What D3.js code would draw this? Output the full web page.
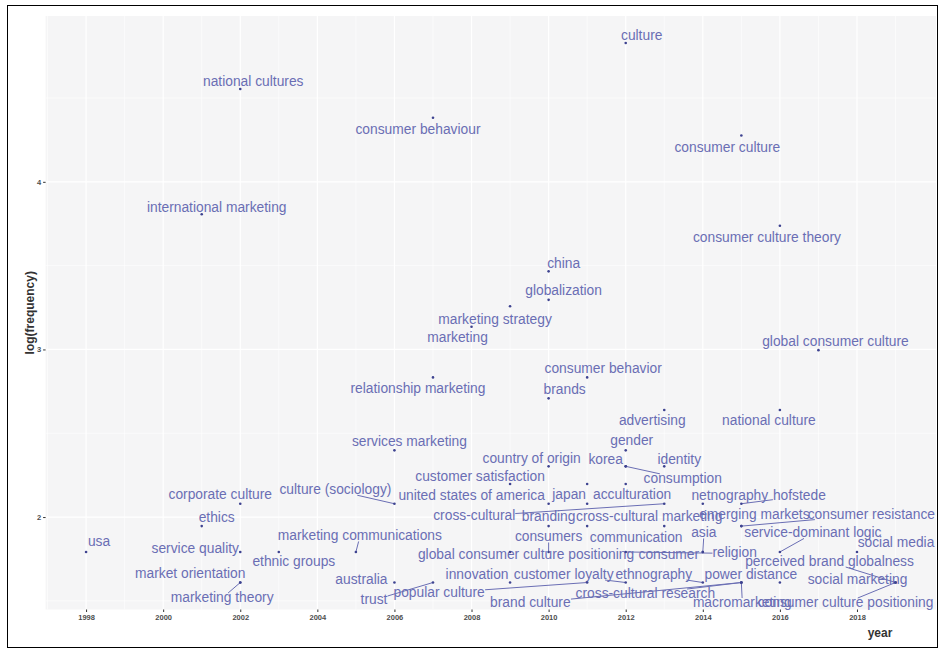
<!DOCTYPE html>
<html>
<head>
<meta charset="utf-8">
<script src="https://cdn.jsdelivr.net/npm/d3@7"></script>
<style>
  html, body { margin: 0; padding: 0; background: #ffffff; }
  svg { display: block; }
</style>
</head>
<body>
<svg id="chart" width="939" height="650"></svg>
<script>
// Author keywords: year of first appearance and number of occurrences.
// An empty term is a point whose label could not be placed.
const keywords = [
  "culture", "national cultures", "consumer behaviour", "consumer culture",
  "international marketing", "consumer culture theory", "china", "globalization",
  "marketing strategy", "marketing", "global consumer culture", "consumer behavior",
  "relationship marketing", "brands", "advertising", "national culture",
  "services marketing", "gender", "country of origin", "korea", "identity",
  "consumption", "customer satisfaction", "acculturation", "united states of america",
  "culture (sociology)", "corporate culture", "japan", "netnography", "hofstede",
  "cross-cultural", "branding", "cross-cultural marketing", "emerging markets",
  "consumer resistance", "ethics", "consumers", "communication", "asia",
  "service-dominant logic", "social media", "usa", "marketing communications",
  "service quality", "ethnic groups", "global consumer culture positioning",
  "consumer", "religion", "perceived brand globalness", "market orientation",
  "marketing theory", "australia", "trust", "popular culture", "innovation",
  "customer loyalty", "ethnography", "power distance", "social marketing",
  "brand culture", "cross-cultural research", "macromarketing",
  "consumer culture positioning", ""
];
const years = [
  2012, 2002, 2007, 2015, 2001, 2016, 2010, 2010, 2009, 2008, 2017, 2011,
  2007, 2010, 2013, 2016, 2006, 2012, 2010, 2012, 2013, 2012, 2009, 2011,
  2010, 2006, 2002, 2011, 2014, 2015, 2013, 2010, 2013, 2015, 2015, 2001,
  2010, 2011, 2014, 2016, 2018, 1998, 2005, 2002, 2003, 2009, 2014, 2012,
  2019, 2002, 2002, 2006, 2007, 2011, 2009, 2012, 2014, 2016, 2019, 2015,
  2015, 2015, 2019, 2012
];
const frequencies = [
  125, 95, 80, 72, 45, 42, 32, 27, 26, 23, 20, 17,
  17, 15, 14, 14, 11, 11, 10, 10, 10, 10, 9, 9,
  8, 8, 8, 8, 8, 8, 8, 7, 7, 7, 7, 7,
  6, 7, 6, 6, 6, 6, 6, 6, 6, 6, 6, 6,
  5, 5, 5, 5, 5, 5, 5, 5, 5, 5, 5, 5,
  5, 5, 5, 9
];
// Axis ticks
const yearTicks = [1998, 2000, 2002, 2004, 2006, 2008, 2010, 2012, 2014, 2016, 2018];
const logTicks = [2, 3, 4];

// Repelled label placement: offset of each label centre from its point, in px
const labelOffsets = [
  [16, -7], [13, -7], [-15, 12], [-14, 12], [15, -7], [-13, 12], [15, -8], [15, -9],
  [-15, 13], [-14, 11], [17, -9], [16, -9], [-15, 11], [16, -9], [-12, 11], [-11, 11],
  [15, -9], [6, -10], [-17, -8], [-20, -7], [15, -7], [57, 12], [-30, -7], [45, 11],
  [-77, -8], [-59, -14], [-20, -9], [-18, -9], [27, -8], [58, -8], [-190, 12], [0, -10],
  [-15, -10], [13, -12], [130, -12], [15, -9], [0, -15], [49, 11], [1, -19], [33, -19],
  [39, -9], [13, -10], [4, -16], [-45, -3], [15, 10], [16, 3], [-34, 3], [109, 1],
  [-66, -21], [-50, -9], [-18, 15], [-33, -3], [-59, 17], [-148, 10], [-33, -8], [-62, -8],
  [-49, -8], [-29, -8], [-38, -3], [-211, 20], [-96, 11], [1, 20], [-50, 20], [0, 0]
];

const rows = keywords.map((k, i) => ({
  term: k,
  year: years[i],
  logFreq: Math.log(frequencies[i]),
  off: labelOffsets[i]
}));

const svg = d3.select("#chart");
const panel = { left: 45.6, right: 936, top: 16, bottom: 609.5 };

// Frame around the figure
svg.append("rect")
  .attr("x", 7.5).attr("y", 5.5)
  .attr("width", 930).attr("height", 642)
  .attr("fill", "#ffffff").attr("stroke", "#000000").attr("stroke-width", 1);

const xMin = d3.min(years), xMax = d3.max(years);
const yMin = d3.min(rows, d => d.logFreq), yMax = d3.max(rows, d => d.logFreq);
const xPad = (xMax - xMin) * 0.05, yPad = (yMax - yMin) * 0.05;

const x = d3.scaleLinear()
  .domain([xMin - xPad, xMax + xPad])
  .range([panel.left, panel.right]);
const y = d3.scaleLinear()
  .domain([yMin - yPad, yMax + yPad])
  .range([panel.bottom, panel.top]);

// Panel background
svg.append("rect")
  .attr("x", panel.left).attr("y", panel.top)
  .attr("width", panel.right - panel.left).attr("height", panel.bottom - panel.top)
  .attr("fill", "#f5f5f6");

const grid = svg.append("g");
// Minor grid lines (half way between majors)
const minorX = d3.range(1997, 2021, 2).filter(v => v > x.domain()[0] && v < x.domain()[1]);
const minorY = [1.5, 2.5, 3.5, 4.5].filter(v => v > y.domain()[0] && v < y.domain()[1]);
grid.selectAll(".mx").data(minorX).join("line")
  .attr("x1", d => x(d)).attr("x2", d => x(d))
  .attr("y1", panel.top).attr("y2", panel.bottom)
  .attr("stroke", "#ffffff").attr("stroke-width", 0.6);
grid.selectAll(".my").data(minorY).join("line")
  .attr("x1", panel.left).attr("x2", panel.right)
  .attr("y1", d => y(d)).attr("y2", d => y(d))
  .attr("stroke", "#ffffff").attr("stroke-width", 0.6);
// Major grid lines
grid.selectAll(".Mx").data(yearTicks).join("line")
  .attr("x1", d => x(d)).attr("x2", d => x(d))
  .attr("y1", panel.top).attr("y2", panel.bottom)
  .attr("stroke", "#ffffff").attr("stroke-width", 1.2);
grid.selectAll(".My").data(logTicks).join("line")
  .attr("x1", panel.left).attr("x2", panel.right)
  .attr("y1", d => y(d)).attr("y2", d => y(d))
  .attr("stroke", "#ffffff").attr("stroke-width", 1.2);

// Axes
const xAxis = svg.append("g")
  .attr("transform", `translate(0,${panel.bottom})`)
  .call(d3.axisBottom(x).tickValues(yearTicks).tickFormat(d3.format("d")).tickSize(2.5).tickPadding(3));
const yAxis = svg.append("g")
  .attr("transform", `translate(${panel.left},0)`)
  .call(d3.axisLeft(y).tickValues(logTicks).tickFormat(d3.format("d")).tickSize(2.5).tickPadding(2));
[xAxis, yAxis].forEach(a => {
  a.select(".domain").remove();
  a.selectAll(".tick line").attr("stroke", "#333333").attr("stroke-width", 1);
  a.selectAll(".tick text")
    .attr("fill", "#4d4d4d")
    .style("font-family", "'Liberation Sans', Arial, sans-serif")
    .style("font-size", "7.5px")
    .style("font-weight", "bold");
});

// Axis titles
svg.append("text")
  .attr("x", 880).attr("y", 637)
  .attr("text-anchor", "middle")
  .attr("fill", "#333333")
  .style("font-family", "'Liberation Sans', Arial, sans-serif")
  .style("font-size", "12px").style("font-weight", "bold")
  .text("year");
svg.append("text")
  .attr("transform", `translate(34,${(panel.top + panel.bottom) / 2}) rotate(-90)`)
  .attr("text-anchor", "middle")
  .attr("fill", "#333333")
  .style("font-family", "'Liberation Sans', Arial, sans-serif")
  .style("font-size", "12px").style("font-weight", "bold")
  .text("log(frequency)");

const labelColor = "#6a6eb4";
const pointColor = "#3e4390";
const fontSize = 13.8;

const layer = svg.append("g");
const labelled = rows.filter(d => d.term !== "");
// Labels first, so their boxes can be measured for the leader segments
const labels = layer.selectAll("text.lab").data(labelled).join("text")
  .attr("class", "lab")
  .attr("x", d => x(d.year) + d.off[0])
  .attr("y", d => y(d.logFreq) + d.off[1])
  .attr("text-anchor", "middle")
  .attr("dominant-baseline", "central")
  .attr("fill", labelColor)
  .style("font-family", "'Liberation Sans', Arial, sans-serif")
  .style("font-size", fontSize + "px")
  .text(d => d.term);

// Leader segments: drawn when a point sits clearly away from its label box,
// running from the point towards the label centre and stopping at the box edge
const segs = [];
labels.each(function (d) {
  const b = this.getBBox();
  const px = x(d.year), py = y(d.logFreq);
  const x0 = b.x, x1 = b.x + b.width, y0 = b.y + 3, y1 = b.y + b.height - 2;
  const nx = Math.max(x0, Math.min(px, x1));
  const ny = Math.max(y0, Math.min(py, y1));
  if (Math.hypot(nx - px, ny - py) <= 9) return;
  const cx = (x0 + x1) / 2, cy = (y0 + y1) / 2;
  const dx = px - cx, dy = py - cy;
  const tx = dx === 0 ? Infinity : ((x1 - x0) / 2) / Math.abs(dx);
  const ty = dy === 0 ? Infinity : ((y1 - y0) / 2) / Math.abs(dy);
  const t = Math.min(tx, ty);
  segs.push({ x1: px, y1: py, x2: cx + dx * t, y2: cy + dy * t });
});
layer.insert("g", "text").selectAll("line").data(segs).join("line")
  .attr("x1", d => d.x1).attr("y1", d => d.y1)
  .attr("x2", d => d.x2).attr("y2", d => d.y2)
  .attr("stroke", labelColor).attr("stroke-width", 1);

// Points
layer.selectAll("circle").data(rows).join("circle")
  .attr("cx", d => x(d.year))
  .attr("cy", d => y(d.logFreq))
  .attr("r", 1.3)
  .attr("fill", pointColor);
</script>
</body>
</html>
